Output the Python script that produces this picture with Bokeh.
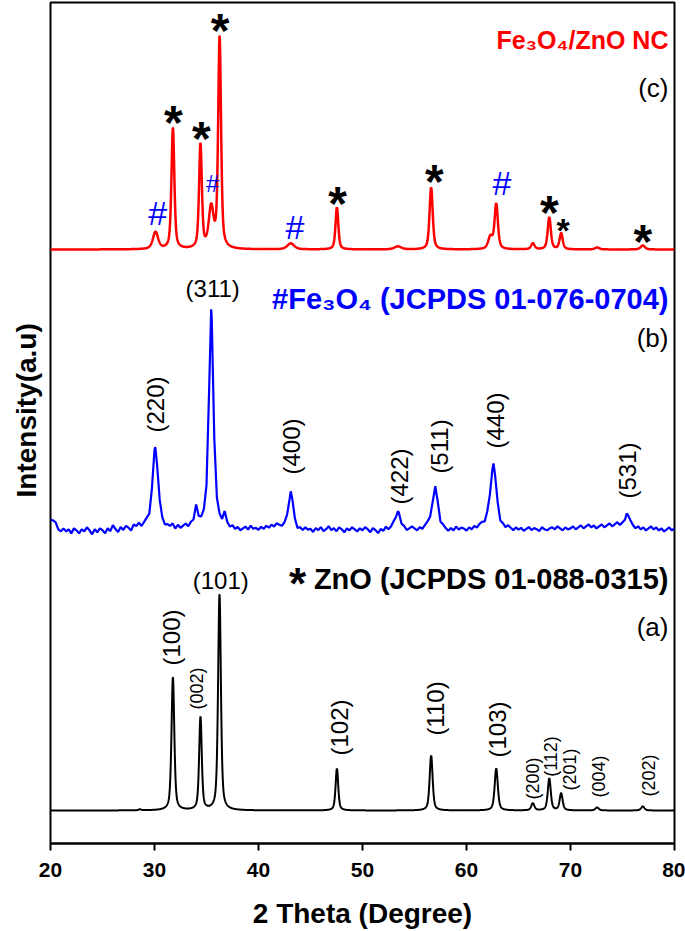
import numpy as np
from math import pi
from bokeh.plotting import figure
from bokeh.models import Range1d, FixedTicker, ColumnDataSource, Title
from bokeh.embed import file_html
from bokeh.resources import INLINE
from bokeh.core.properties import value

FONT = "Liberation Sans"

# ---------------- data ----------------
x_ticks = [20, 30, 40, 50, 60, 70, 80]

# (a) ZnO
zno_pos = [28.6, 31.77, 34.42, 36.25, 47.54, 56.60, 62.86, 66.38, 67.96, 69.10, 72.56, 76.95]
zno_height = [1, 133, 93, 216, 42, 55, 42, 7, 32, 17, 3, 4]
zno_fwhm = [0.3, 0.32, 0.30, 0.32, 0.30, 0.34, 0.36, 0.36, 0.34, 0.34, 0.40, 0.40]
zno_offset = 33

# (b) Fe3O4
fe_pos = [30.08, 34.0, 35.45, 36.7, 43.1, 53.4, 57.0, 62.6, 75.4]
fe_height = [80, 18, 218, 10, 36, 16, 44, 64, 14]
fe_fwhm = [0.6, 0.15, 0.5, 0.25, 0.6, 0.6, 0.6, 0.7, 0.3]
fe_offset = 316
fe_step = 0.25
fe_noise = [
    8, 7, 5, -2, -4, -1, -4, -2, -6, -1, -3, -6, -2, -4, 0, -3, -7, -2, -5, -1,
    -3, -6, -1, -4, 2, -2, -5, 0, -3, 1, -1, -4, 2, 0, 3, -1, 2, 4, 1, 3,
    2, 0, 3, 1, -2, 0, -1, 2, -3, 1, -2, 0, 2, -1, 3, 4, 1, 5, 2, 3,
    2, 1, 0, 3, 4, 2, -1, 3, 1, -2, 0, -3, -1, -4, -2, 0, -3, 1, -2, -1,
    -3, 0, -2, 1, -1, 2, 0, 3, 1, -1, 0, -2, -4, -1, -3, -5, -2, -4, -1, -3,
    -2, -5, -1, -3, 0, -4, -2, 1, -3, -1, -4, 0, -2, -5, -1, -3, 0, -2, -4, -1,
    -3, 0, -2, -5, -1, -3, -6, -2, -4, 0, -3, -1, 1, -2, 0, -3, -1, -4, -2, 0,
    -2, -4, -1, -3, 0, 2, 1, -1, -3, -2, -4, -1, -3, -5, -2, -4, 0, -3, -1, -2,
    -4, -1, -3, 0, -2, 1, 2, 0, 3, 1, -1, -3, -2, -4, -1, -3, 0, -2, -4, -1,
    -3, -1, -4, -2, 0, -3, -1, -2, -4, 0, -2, -3, -1, 0, -2, 1, -1, -3, 0, -2,
    -1, 1, -2, 0, 2, -1, 1, 3, 0, 2, -1, 1, 3, 0, 2, 4, 1, 3, 5, 2,
    4, 1, 3, 6, 2, -1, 1, -2, 0, -3, -1, 1, -2, 0, -3, -1, -4, -2, 0, -3,
    -1,
]

# (c) Fe3O4/ZnO NC
nc_pos = [30.1, 31.77, 34.42, 35.45, 36.26, 43.1, 47.54, 53.4, 56.60, 62.3, 62.86, 66.38, 67.96, 69.10, 72.56, 76.95]
nc_height = [17, 121, 104, 40, 211, 6, 42, 3, 62, 12, 45, 6, 32, 16, 2, 4]
nc_fwhm = [0.6, 0.33, 0.32, 0.55, 0.33, 0.8, 0.32, 0.8, 0.36, 0.5, 0.38, 0.4, 0.36, 0.36, 0.5, 0.5]
nc_offset = 594

# annotations: Miller indices
big_rot_text = ["(220)", "(400)", "(422)", "(511)", "(440)", "(531)", "(100)", "(102)", "(110)", "(103)"]
big_rot_x = [30.11, 43.21, 53.52, 57.40, 62.75, 75.45, 31.65, 47.83, 57.05, 63.0]
big_rot_y = [439, 397, 367, 397, 423, 373, 206, 116, 135, 114]

small_rot_text = ["(002)", "(200)", "(112)", "(201)", "(004)", "(202)"]
small_rot_x = [34.06, 66.42, 68.16, 69.99, 72.78, 77.59]
small_rot_y = [155, 65, 87, 74, 67, 68]

hor_text = ["(311)", "(101)"]
hor_x = [35.6, 36.37]
hor_y = [555, 263]

star_big_x = [36.3, 31.8, 34.5, 47.6, 56.9, 67.96, 76.95]
star_big_y = [820, 728, 712, 647, 669, 638, 609]
star_small_x = [69.3]
star_small_y = [619]

hash_big_x = [30.3, 43.5, 63.4]
hash_big_y = [631, 617, 661]
hash_small_x = [35.6]
hash_small_y = [660]

# ---------------- helpers ----------------
def profile(x, pos, height, fwhm, eta=0.55):
    y = np.zeros_like(x)
    for c, h, w in zip(pos, height, fwhm):
        t = ((x - c) / (w / 2.0)) ** 2
        y += h * (eta / (1.0 + t) + (1.0 - eta) * np.exp(-np.log(2.0) * t))
    return y

fine_x = np.arange(20.0, 80.0001, 0.02)
y_a = zno_offset + profile(fine_x, zno_pos, zno_height, zno_fwhm)
y_c = nc_offset + profile(fine_x, nc_pos, nc_height, nc_fwhm)

grid_x = [round(20.0 + fe_step * i, 3) for i in range(len(fe_noise))]
pts = dict(zip(grid_x, fe_noise))
for c in fe_pos:
    pts.setdefault(round(c, 3), 0)
bx = np.array(sorted(pts.keys()))
bn = np.array([pts[k] for k in bx], dtype=float)
y_b = fe_offset + bn + profile(bx, fe_pos, fe_height, fe_fwhm, eta=0.6)

# ---------------- figure ----------------
p = figure(width=685, height=931, x_range=Range1d(20, 80), y_range=Range1d(0, 841),
           output_backend="svg", toolbar_location=None,
           min_border_left=50, min_border_right=11, min_border_top=2, min_border_bottom=88)
p.background_fill_color = "white"
p.border_fill_color = "white"
p.xgrid.visible = False
p.ygrid.visible = False
p.yaxis.visible = False
p.outline_line_color = "black"
p.outline_line_width = 2

ax = p.xaxis[0]
ax.ticker = FixedTicker(ticks=x_ticks, minor_ticks=[])
ax.axis_line_width = 2
ax.major_tick_line_width = 2
ax.major_tick_out = 7
ax.major_tick_in = 0
ax.minor_tick_out = 0
ax.minor_tick_in = 0
ax.major_label_text_font = FONT
ax.major_label_text_font_size = "21px"
ax.major_label_text_font_style = "bold"
ax.major_label_text_color = "black"
ax.major_label_standoff = 12
ax.axis_label = "2 Theta (Degree)"
ax.axis_label_text_font = FONT
ax.axis_label_text_font_size = "28px"
ax.axis_label_text_font_style = "bold"
ax.axis_label_text_color = "black"
ax.axis_label_standoff = 18

ytitle = Title(text="Intensity(a.u)", align="left", offset=346, standoff=17,
               text_font=FONT, text_font_size="28px", text_font_style="bold",
               text_color="black")
p.add_layout(ytitle, "left")

p.line(fine_x, y_a, line_color="black", line_width=2)
p.line(bx, y_b, line_color="#0000ff", line_width=2.2)
p.line(fine_x, y_c, line_color="#ff0000", line_width=2.5)

def texts(xs, ys, labels, size, color="black", style="normal", angle=0.0,
          align="center", baseline="middle", y_offset=0):
    src = ColumnDataSource(dict(x=xs, y=ys, t=labels))
    p.text(x="x", y="y", text="t", source=src, angle=angle,
           text_font=value(FONT), text_font_size=size, text_font_style=style,
           text_color=color, text_align=align, text_baseline=baseline,
           y_offset=y_offset)

texts(big_rot_x, big_rot_y, big_rot_text, "24px", angle=pi / 2)
texts(small_rot_x, small_rot_y, small_rot_text, "18px", angle=pi / 2)
texts(hor_x, hor_y, hor_text, "24px")

texts(star_big_x, star_big_y, ["*"] * len(star_big_x), "48px", style="bold",
      baseline="alphabetic", y_offset=7)
texts(star_small_x, star_small_y, ["*"] * len(star_small_x), "34px", style="bold",
      baseline="alphabetic", y_offset=5)
texts(hash_big_x, hash_big_y, ["#"] * len(hash_big_x), "34px", color="#0000ff",
      baseline="alphabetic", y_offset=0)
texts(hash_small_x, hash_small_y, ["#"] * len(hash_small_x), "24px", color="#0000ff",
      baseline="alphabetic", y_offset=0)

# legends / panel tags (right aligned)
RX = 79.42
texts([RX], [804], ["Fe\u2083O\u2084/ZnO NC"], "25px", color="#ff0000", style="bold", align="right")
texts([RX], [756], ["(c)"], "26px", align="right")
texts([RX], [545], ["#Fe\u2083O\u2084 (JCPDS 01-076-0704)"], "29px", color="#0000ff", style="bold", align="right")
texts([RX], [506], ["(b)"], "26px", align="right")
texts([RX], [265], ["ZnO (JCPDS 01-088-0315)"], "29px", style="bold", align="right")
texts([RX], [217], ["(a)"], "26px", align="right")
texts([43.75], [267], ["*"], "44px", style="bold", baseline="alphabetic", y_offset=7)

open("out.html", "w").write(file_html(p, INLINE))
